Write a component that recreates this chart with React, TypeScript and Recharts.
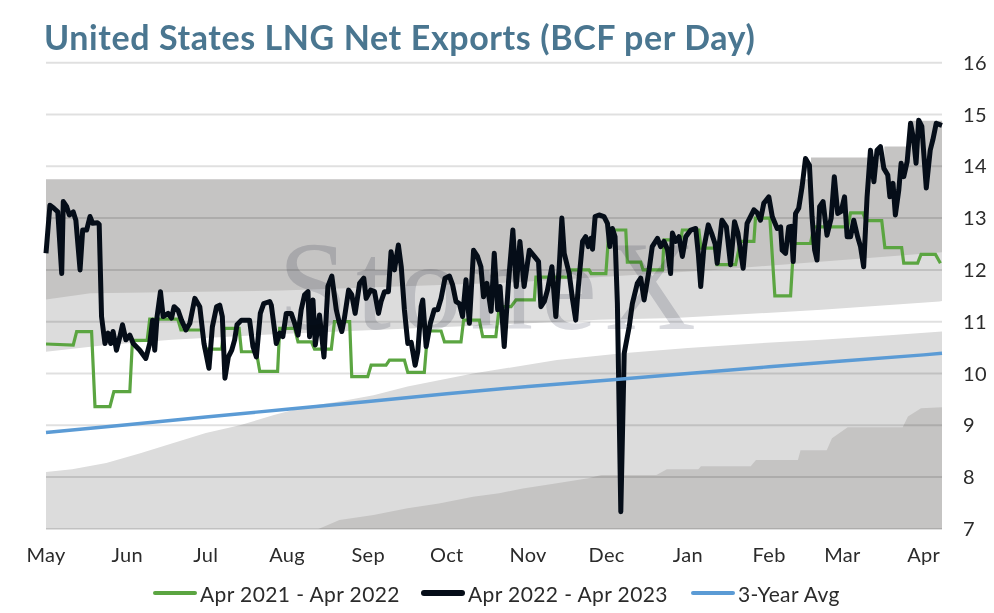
import React from "react";
import { Area, ComposedChart, Line, ReferenceLine, XAxis, YAxis } from "recharts";

type Pair = [number, number];

// x axis: day index counted from May 1
const monthNames = ["May", "Jun", "Jul", "Aug", "Sep", "Oct", "Nov", "Dec", "Jan", "Feb", "Mar", "Apr"];
const monthStartDays = [0, 31, 61, 92, 123, 153, 184, 214, 245, 276, 304, 335];
const lastDay = 342;
const valueTicks = [7, 8, 9, 10, 11, 12, 13, 14, 15, 16];

// historical range bands, read from the shaded areas
const bandOuterTop: Pair[] = [
  [0, 13.75], [292, 13.75], [292, 14.17], [320, 14.17], [320, 14.38], [330, 14.38], [330, 14.88], [342, 14.88],
];
const bandInnerTop: Pair[] = [
  [0, 11.43], [17, 11.55], [90, 11.6], [175, 11.75], [255, 12.0], [342, 12.34],
];
const bandMidTop: Pair[] = [
  [0, 10.42], [23, 10.55], [48, 10.65], [87, 10.76], [125, 10.84], [173, 10.94], [211, 11.04],
  [240, 11.07], [296, 11.23], [341, 11.39], [342, 11.4],
];
const bandMidBottom: Pair[] = [
  [0, 8.1], [10, 8.15], [23, 8.27], [36, 8.46], [48, 8.65], [61, 8.85], [74, 9.0], [87, 9.2],
  [99, 9.36], [112, 9.46], [125, 9.58], [138, 9.75], [150, 9.87], [163, 10.0], [173, 10.08],
  [195, 10.26], [220, 10.39], [245, 10.49], [271, 10.58], [296, 10.65], [322, 10.74], [342, 10.81],
];
const bandOuterBottom: Pair[] = [
  [0, 7], [104, 7], [112, 7.17], [125, 7.27], [138, 7.4], [150, 7.49], [163, 7.62], [173, 7.69],
  [182, 7.78], [195, 7.88], [207, 7.98], [212, 8.04], [233, 8.04], [237, 8.15], [249, 8.15],
  [250, 8.21], [269, 8.21], [271, 8.33], [287, 8.33], [288, 8.52], [298, 8.52], [300, 8.75],
  [306, 8.96], [327, 8.96], [329, 9.17], [334, 9.33], [342, 9.35],
];

const exports2122: Pair[] = [
  [0, 10.57], [10.4, 10.55], [11.7, 10.81], [17.4, 10.81], [18.7, 9.36], [24.4, 9.36], [25.9, 9.65],
  [32, 9.65], [33, 10.64], [38.6, 10.64], [39.6, 11.05], [50.3, 11.05], [51.5, 10.84], [59.5, 10.84],
  [60.5, 10.47], [67, 10.47], [68, 10.87], [73.7, 10.87], [74.6, 10.42], [80.3, 10.42], [81.6, 10.04],
  [88.4, 10.04], [89.2, 10.87], [94.9, 10.87], [96.2, 10.61], [101.3, 10.61], [102.5, 10.47],
  [108.9, 10.47], [110.1, 11.0], [115.9, 11.0], [116.7, 9.94], [122.8, 9.94], [124.1, 10.16],
  [129.8, 10.16], [131.1, 10.26], [136.8, 10.26], [138.1, 10.02], [144.4, 10.02], [145.7, 10.82],
  [150.8, 10.82], [152.1, 10.61], [158.4, 10.61], [159.4, 11.03], [165.4, 11.03], [166.7, 10.71],
  [171.7, 10.71], [173, 11.29], [177.5, 11.29], [179.4, 11.42], [186.4, 11.42], [187, 11.86],
  [199.7, 11.86], [200.3, 12.0], [207.3, 12.0], [208.1, 11.93], [213.7, 11.93], [214.9, 12.77],
  [221.3, 12.77], [221.9, 12.15], [227, 12.15], [227.9, 12.0], [235.3, 12.0], [235.9, 12.58],
  [242.3, 12.58], [242.9, 12.77], [249.2, 12.77], [250, 12.42], [255.3, 12.42], [256.1, 12.1],
  [263.2, 12.1], [265.1, 12.55], [270.2, 12.55], [270.8, 13.0], [276.3, 13.0], [278.2, 11.5],
  [284.2, 11.5], [285.4, 12.51], [291.8, 12.51], [293.1, 12.83], [306, 12.83], [307.1, 13.1],
  [311.8, 13.1], [312.9, 12.95], [319, 12.95], [320.2, 12.43], [326.6, 12.43], [327.4, 12.13],
  [332.7, 12.13], [334, 12.3], [339.5, 12.3], [341.4, 12.13],
];

const exports2223: Pair[] = [
  [0, 12.32], [1.5, 13.25], [3, 13.19], [4.5, 13.12], [6, 11.93], [6.6, 13.32], [7.9, 13.22], [8.9, 13.06],
  [10.4, 13.12], [11.4, 12.96], [13, 12.0], [14, 12.77], [15.5, 12.77], [16.8, 13.03], [17.8, 12.9],
  [19.6, 12.91], [20.3, 12.88], [21.2, 11.1], [22.5, 10.58], [23.7, 10.78], [24.7, 10.58], [25.6, 10.81],
  [26.9, 10.45], [28.2, 10.71], [29.2, 10.94], [30.5, 10.65], [32, 10.74], [33.3, 10.58], [35.8, 10.45],
  [38.1, 10.29], [39.6, 10.58], [40.7, 11.03], [41.5, 10.45], [42.4, 11.1], [43.7, 11.58], [44.7, 11.1],
  [46.6, 11.16], [47.9, 11.07], [48.9, 11.29], [50.4, 11.22], [51.7, 11.03], [53.4, 10.84], [54.9, 10.97],
  [56.8, 11.45], [58.7, 11.29], [60.3, 10.58], [62.2, 10.1], [63.5, 10.9], [65.1, 11.29], [66.3, 11.32],
  [67.3, 11.1], [68.3, 9.91], [69.6, 10.32], [70.9, 10.45], [72, 10.65], [72.9, 10.94], [74.6, 11.03],
  [77.7, 11.03], [79, 10.52], [80.3, 10.32], [81.8, 11.16], [83.1, 11.35], [85.4, 11.39], [86, 11.32],
  [87.9, 10.58], [89.2, 10.78], [90.4, 10.71], [91.7, 11.16], [93.6, 11.16], [94.9, 10.97], [96.2, 10.74],
  [97.4, 11.23], [98.7, 11.52], [100, 11.58], [100.6, 10.71], [101.9, 11.42], [102.8, 10.55], [104.4, 11.13],
  [106.1, 10.32], [107.6, 11.68], [109.1, 11.88], [110.8, 11.23], [112, 10.97], [112.9, 10.81], [113.9, 11.07],
  [115.5, 11.61], [116.7, 11.52], [118, 11.16], [119.7, 11.74], [121.3, 11.84], [122.2, 11.45], [123.9, 11.61],
  [125.4, 11.58], [126.9, 11.16], [127.9, 11.39], [129.2, 11.58], [130.7, 11.58], [131.7, 12.35], [133, 12.0],
  [134.5, 12.48], [135.6, 12.06], [136.8, 11.23], [138.1, 10.58], [139.4, 10.6], [140.9, 10.16], [141.9, 10.42],
  [143.2, 11.29], [143.8, 11.42], [145.1, 10.52], [146.7, 10.97], [148.2, 11.23], [149.5, 11.23], [150.8, 11.45],
  [152.3, 11.84], [154, 11.88], [155.2, 11.71], [156.5, 11.39], [157.8, 11.35], [159, 11.1], [160.3, 11.81],
  [161.6, 10.97], [163.2, 12.38], [164.7, 12.26], [166, 12.06], [167, 11.48], [168.3, 11.74], [169.9, 11.2],
  [171.1, 12.32], [172.4, 11.23], [173.3, 11.68], [174.9, 10.52], [176.6, 11.81], [178.2, 12.77], [179.5, 11.68],
  [180.9, 12.55], [182.5, 11.68], [184.5, 12.38], [186.4, 12.26], [188, 12.16], [188.9, 11.29], [190.2, 11.39],
  [191.4, 11.61], [193.1, 12.06], [194.6, 11.1], [195.9, 12.06], [196.9, 13.0], [197.8, 12.32], [199.7, 11.93],
  [201, 11.42], [202.2, 11.03], [203.2, 11.68], [204.8, 12.55], [206, 12.64], [207, 12.45], [208, 12.61],
  [208.6, 12.4], [209.6, 13.03], [211.1, 13.06], [213, 13.03], [214.3, 12.9], [215.2, 12.45], [216.2, 12.8],
  [217.2, 12.64], [218.1, 11.35], [219.4, 7.33], [220.7, 10.39], [222.6, 10.9], [223.8, 11.35], [225.7, 11.74],
  [227, 11.84], [228.3, 11.42], [230.2, 12.0], [231.4, 12.45], [233.4, 12.61], [234.6, 12.45], [235.9, 12.55],
  [237.2, 12.4], [238.4, 11.93], [239.1, 12.71], [240.3, 12.55], [241.6, 12.64], [242.9, 12.26], [244.2, 12.64],
  [246.1, 12.77], [248, 12.8], [249, 12.3], [249.9, 11.68], [251.1, 12.42], [252.8, 12.87], [254.1, 12.7],
  [255.4, 12.5], [256.2, 12.13], [258, 12.96], [259.7, 12.83], [261.3, 12.1], [262.8, 12.93], [264.1, 12.71],
  [266.1, 12.03], [267.6, 12.9], [268.9, 13.03], [270.2, 13.16], [271.5, 13.1], [272.7, 12.96], [274, 13.29],
  [275.9, 13.41], [277.2, 13.03], [279.1, 12.8], [280.4, 12.83], [281, 12.38], [282.3, 12.32], [283.5, 12.83],
  [284.4, 12.84], [285.2, 12.16], [286.1, 13.09], [287.3, 13.19], [288.6, 13.61], [289.9, 14.15], [291.4, 14.02],
  [292.4, 13.03], [293.4, 12.38], [294.3, 12.19], [295.3, 13.22], [296.6, 13.32], [298.1, 12.67], [299.7, 13.0],
  [300.9, 13.8], [302.2, 13.09], [303.5, 13.13], [304.8, 13.41], [305.8, 12.64], [307.1, 12.64], [308.3, 12.96],
  [309.8, 12.64], [310.9, 12.45], [312.1, 12.06], [313.4, 13.41], [314.7, 14.31], [316, 13.7], [317.2, 14.31],
  [318.5, 14.38], [319.8, 13.96], [321.3, 13.83], [322.1, 13.41], [323.3, 13.67], [324.2, 13.06], [325.5, 13.54],
  [326.4, 14.06], [327.4, 13.8], [328.7, 14.09], [330, 14.83], [331.2, 14.51], [332.1, 14.06], [333.1, 14.89],
  [334.3, 14.77], [336, 13.58], [337.5, 14.31], [338.5, 14.51], [339.8, 14.83], [341.4, 14.8], [342, 14.79],
];

const threeYearAvg: Pair[] = [
  [0, 8.86], [31, 9.01], [61, 9.16], [92, 9.31], [123, 9.46], [153, 9.61], [184, 9.75], [214, 9.87],
  [245, 10.0], [276, 10.13], [304, 10.24], [335, 10.36], [342, 10.39],
];

const toRows = (pairs: Pair[]) => pairs.map(([day, value]) => ({ day, value }));

const DARK_BAND = "#c5c4c3";
const LIGHT_BAND = "#dcdcdc";
const FONT = "Lato, 'Noto Sans', sans-serif";
const TEXT = "#2b2b2b";

const legendItems = [
  { label: "Apr 2021 - Apr 2022", color: "#5ba541", thickness: 4, left: 153 },
  { label: "Apr 2022 - Apr 2023", color: "#050d18", thickness: 6, left: 421 },
  { label: "3-Year Avg", color: "#5b9bd5", thickness: 4, left: 691 },
];

export default function App() {
  const tickStyle = { fill: TEXT, fontSize: 20, fontFamily: FONT, letterSpacing: 0.3 };
  return (
    <div style={{ position: "absolute", left: 0, top: 0, width: 994, height: 613, background: "#fff", fontFamily: FONT }}>
      <div
        style={{
          position: "absolute",
          left: 44,
          top: 20,
          fontSize: 34,
          lineHeight: "34px",
          fontWeight: 700,
          letterSpacing: 0.6,
          color: "#4a7690",
          whiteSpace: "nowrap",
        }}
      >
        United States LNG Net Exports (BCF per Day)
      </div>
      <ComposedChart width={994} height={613} margin={{ top: 62.7, right: 0, bottom: 0, left: 46 }}>
        <XAxis
          type="number"
          dataKey="day"
          domain={[0, lastDay]}
          ticks={monthStartDays}
          interval={0}
          tickFormatter={(d: number) => monthNames[monthStartDays.indexOf(d)]}
          axisLine={false}
          tickLine={false}
          tickMargin={13}
          height={84.1}
          tick={tickStyle}
        />
        <YAxis
          orientation="right"
          type="number"
          domain={[7, 16]}
          ticks={valueTicks}
          interval={0}
          width={52}
          axisLine={false}
          tickLine={false}
          tickMargin={15}
          tick={tickStyle}
        />
        <Area data={toRows(bandOuterTop)} dataKey="value" type="linear" stroke="none" fill={DARK_BAND} fillOpacity={1} isAnimationActive={false} activeDot={false} />
        <Area data={toRows(bandInnerTop)} dataKey="value" type="linear" stroke="none" fill={LIGHT_BAND} fillOpacity={1} isAnimationActive={false} activeDot={false} />
        <Area data={toRows(bandMidTop)} dataKey="value" type="linear" stroke="none" fill="#ffffff" fillOpacity={1} isAnimationActive={false} activeDot={false} />
        <Area data={toRows(bandMidBottom)} dataKey="value" type="linear" stroke="none" fill={LIGHT_BAND} fillOpacity={1} isAnimationActive={false} activeDot={false} />
        <Area data={toRows(bandOuterBottom)} dataKey="value" type="linear" stroke="none" fill={DARK_BAND} fillOpacity={1} isAnimationActive={false} activeDot={false} />
        {valueTicks.map((v) => (
          <ReferenceLine key={v} y={v} stroke="rgba(0,0,0,0.12)" strokeWidth={2} />
        ))}
        <Line data={toRows(exports2122)} dataKey="value" type="linear" stroke="#5ba541" strokeWidth={3.2} dot={false} activeDot={false} isAnimationActive={false} />
        <Line data={toRows(exports2223)} dataKey="value" type="linear" stroke="#050d18" strokeWidth={5} strokeLinejoin="round" dot={false} activeDot={false} isAnimationActive={false} />
        <Line data={toRows(threeYearAvg)} dataKey="value" type="linear" stroke="#5b9bd5" strokeWidth={3.4} dot={false} activeDot={false} isAnimationActive={false} />
      </ComposedChart>
      <div
        style={{
          position: "absolute",
          left: 278,
          top: 224,
          fontFamily: "'Liberation Serif', 'DejaVu Serif', serif",
          fontSize: 126,
          lineHeight: "126px",
          letterSpacing: 8,
          color: "#dadbe0",
          mixBlendMode: "multiply",
          pointerEvents: "none",
          whiteSpace: "nowrap",
        }}
      >
        StoneX
      </div>
      {legendItems.map((item) => (
        <div key={item.label} style={{ position: "absolute", left: item.left, top: 581, display: "flex", alignItems: "center", height: 24 }}>
          <div style={{ width: 44, height: item.thickness, background: item.color, borderRadius: item.thickness / 2 }} />
          <span style={{ marginLeft: 3, fontSize: 21, letterSpacing: 0.4, color: TEXT, whiteSpace: "nowrap" }}>{item.label}</span>
        </div>
      ))}
    </div>
  );
}
